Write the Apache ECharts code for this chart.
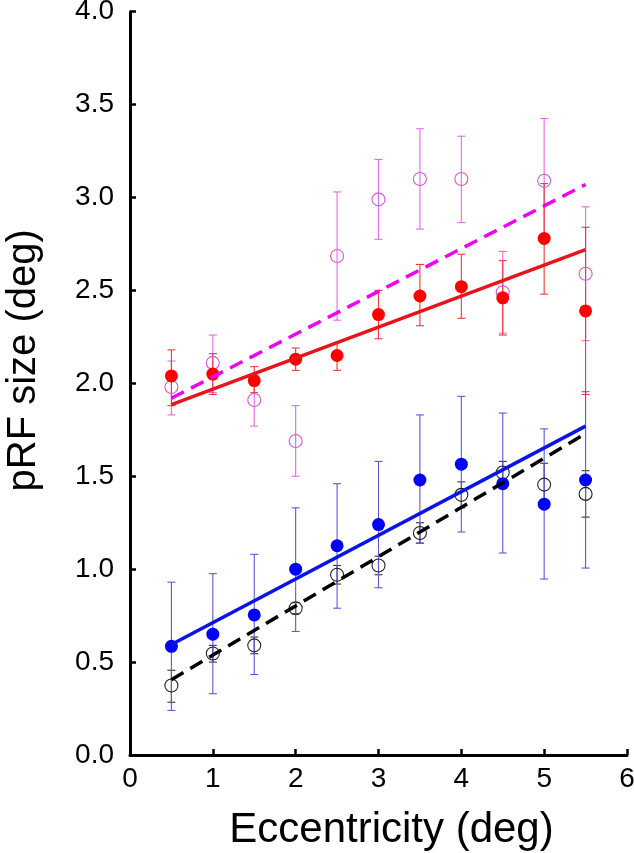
<!DOCTYPE html>
<html>
<head>
<meta charset="utf-8">
<script src="https://cdn.jsdelivr.net/npm/echarts@6/dist/echarts.min.js"></script>
<style>
html,body{margin:0;padding:0;background:#fff;}
#chart{width:634px;height:853px;}
</style>
</head>
<body>
<div id="chart"></div>
<script>
// ---- data ----
const xs = [0.5, 1, 1.5, 2, 2.5, 3, 3.5, 4, 4.5, 5, 5.5];

const redMean  = [2.04, 2.05, 2.015, 2.13, 2.15, 2.37, 2.47, 2.52, 2.46, 2.78, 2.39];
const redLow   = [1.88, 1.94, 1.95, 2.07, 2.07, 2.24, 2.31, 2.35, 2.26, 2.48, 1.94];
const redHigh  = [2.18, 2.16, 2.09, 2.19, 2.22, 2.50, 2.64, 2.695, 2.66, 3.075, 2.84];

const pinkMean = [1.98, 2.11, 1.91, 1.69, 2.685, 2.99, 3.10, 3.10, 2.49, 3.09, 2.59];
const pinkLow  = [1.83, 1.95, 1.77, 1.50, 2.34, 2.775, 2.83, 2.865, 2.27, 2.76, 2.23];
const pinkHigh = [2.12, 2.26, 2.05, 1.88, 3.03, 3.205, 3.37, 3.33, 2.71, 3.425, 2.95];

const blueMean = [0.585, 0.65, 0.754, 1.00, 1.126, 1.24, 1.48, 1.565, 1.46, 1.35, 1.48];
const blueLow  = [0.24, 0.33, 0.433, 0.665, 0.79, 0.90, 1.14, 1.20, 1.087, 0.947, 1.006];
const blueHigh = [0.93, 0.976, 1.08, 1.33, 1.46, 1.58, 1.83, 1.93, 1.84, 1.755, 1.955];

const blackMean = [0.374, 0.546, 0.59, 0.79, 0.97, 1.02, 1.195, 1.40, 1.52, 1.455, 1.405];
const blackLow  = [0.284, 0.50, 0.545, 0.76, 0.92, 0.97, 1.14, 1.33, 1.46, 1.34, 1.28];
const blackHigh = [0.456, 0.59, 0.635, 0.82, 1.02, 1.07, 1.25, 1.47, 1.58, 1.57, 1.53];

// linear fit end points (x = 0.5 and x = 5.5)
const fitX     = [0.5, 5.5];
const redFit   = [1.885, 2.72];
const pinkFit  = [1.92, 3.07];
const blueFit  = [0.595, 1.77];
const blackFit = [0.405, 1.73];

const xTicks = [0, 1, 2, 3, 4, 5, 6];
const yTicks = [0, 0.5, 1, 1.5, 2, 2.5, 3, 3.5, 4];

// ---- helpers ----
const FONT = '"Liberation Sans", Arial, Helvetica, sans-serif';
function pts(m) { return xs.map((x, i) => [x, m[i]]); }
function errs(lo, hi) { return xs.map((x, i) => [x, lo[i], hi[i]]); }
function fit(v) { return fitX.map((x, i) => [x, v[i]]); }

function errSeries(lo, hi, color) {
  return {
    type: 'custom',
    silent: true,
    data: errs(lo, hi),
    renderItem: function (params, api) {
      const x = api.value(0);
      const top = api.coord([x, api.value(2)]);
      const bot = api.coord([x, api.value(1)]);
      const cw = 4;
      const st = { stroke: color, lineWidth: 1.1 };
      return {
        type: 'group',
        children: [
          { type: 'line', shape: { x1: top[0], y1: top[1], x2: bot[0], y2: bot[1] }, style: st },
          { type: 'line', shape: { x1: top[0] - cw, y1: top[1], x2: top[0] + cw, y2: top[1] }, style: st },
          { type: 'line', shape: { x1: bot[0] - cw, y1: bot[1], x2: bot[0] + cw, y2: bot[1] }, style: st }
        ]
      };
    }
  };
}
function fitSeries(v, color, dashed) {
  return {
    type: 'line', data: fit(v), symbol: 'none', silent: true,
    lineStyle: { color: color, width: 3.5, type: dashed ? [14, 8] : 'solid', cap: 'butt' }
  };
}
function filled(m, color) {
  return { type: 'scatter', data: pts(m), symbol: 'circle', symbolSize: 13,
    itemStyle: { color: color, opacity: 1 } };
}
function open(m, color) {
  return { type: 'scatter', data: pts(m), symbol: 'circle', symbolSize: 13,
    itemStyle: { color: 'rgba(255,255,255,0)', borderColor: color, borderWidth: 1.1, opacity: 1 } };
}

const chart = echarts.init(document.getElementById('chart'), null, { renderer: 'canvas' });
chart.setOption({
  animation: false,
  backgroundColor: '#fff',
  grid: { left: 130, right: 7, top: 11.7, bottom: 98, outerBoundsMode: 'none', containLabel: false },
  xAxis: {
    type: 'value', min: xTicks[0], max: xTicks[xTicks.length - 1], interval: 1,
    name: 'Eccentricity (deg)', nameLocation: 'middle', nameGap: 54,
    nameTextStyle: { fontFamily: FONT, fontSize: 42, color: '#000', padding: [0, 0, 0, 26] },
    axisLine: { onZero: false, lineStyle: { color: '#000', width: 3 } },
    axisTick: { inside: true, length: 6, lineStyle: { color: '#000', width: 2.5 } },
    axisLabel: { margin: 10, fontFamily: FONT, fontSize: 28, color: '#000',
      formatter: v => String(v) },
    splitLine: { show: false }
  },
  yAxis: {
    type: 'value', min: yTicks[0], max: yTicks[yTicks.length - 1], interval: 0.5,
    name: 'pRF size (deg)', nameLocation: 'middle', nameGap: 86,
    nameTextStyle: { fontFamily: FONT, fontSize: 40, color: '#000', padding: [0, 0, 0, 46] },
    axisLine: { onZero: false, lineStyle: { color: '#000', width: 3 } },
    axisTick: { inside: true, length: 6, lineStyle: { color: '#000', width: 2.5 } },
    axisLabel: { margin: 16, fontFamily: FONT, fontSize: 28, color: '#000',
      formatter: v => v.toFixed(1) },
    splitLine: { show: false }
  },
  series: [
    errSeries(pinkLow, pinkHigh, '#e36be3'),
    fitSeries(pinkFit, '#f000f0', true),
    open(pinkMean, '#d45ad4'),
    errSeries(redLow, redHigh, '#e83a3a'),
    fitSeries(redFit, '#e8141c', false),
    filled(redMean, '#ff0000'),
    errSeries(blackLow, blackHigh, '#333333'),
    fitSeries(blackFit, '#000000', true),
    open(blackMean, '#222222'),
    errSeries(blueLow, blueHigh, '#5a5ad8'),
    fitSeries(blueFit, '#0a14e6', false),
    filled(blueMean, '#0000ff')
  ]
});
</script>
</body>
</html>
